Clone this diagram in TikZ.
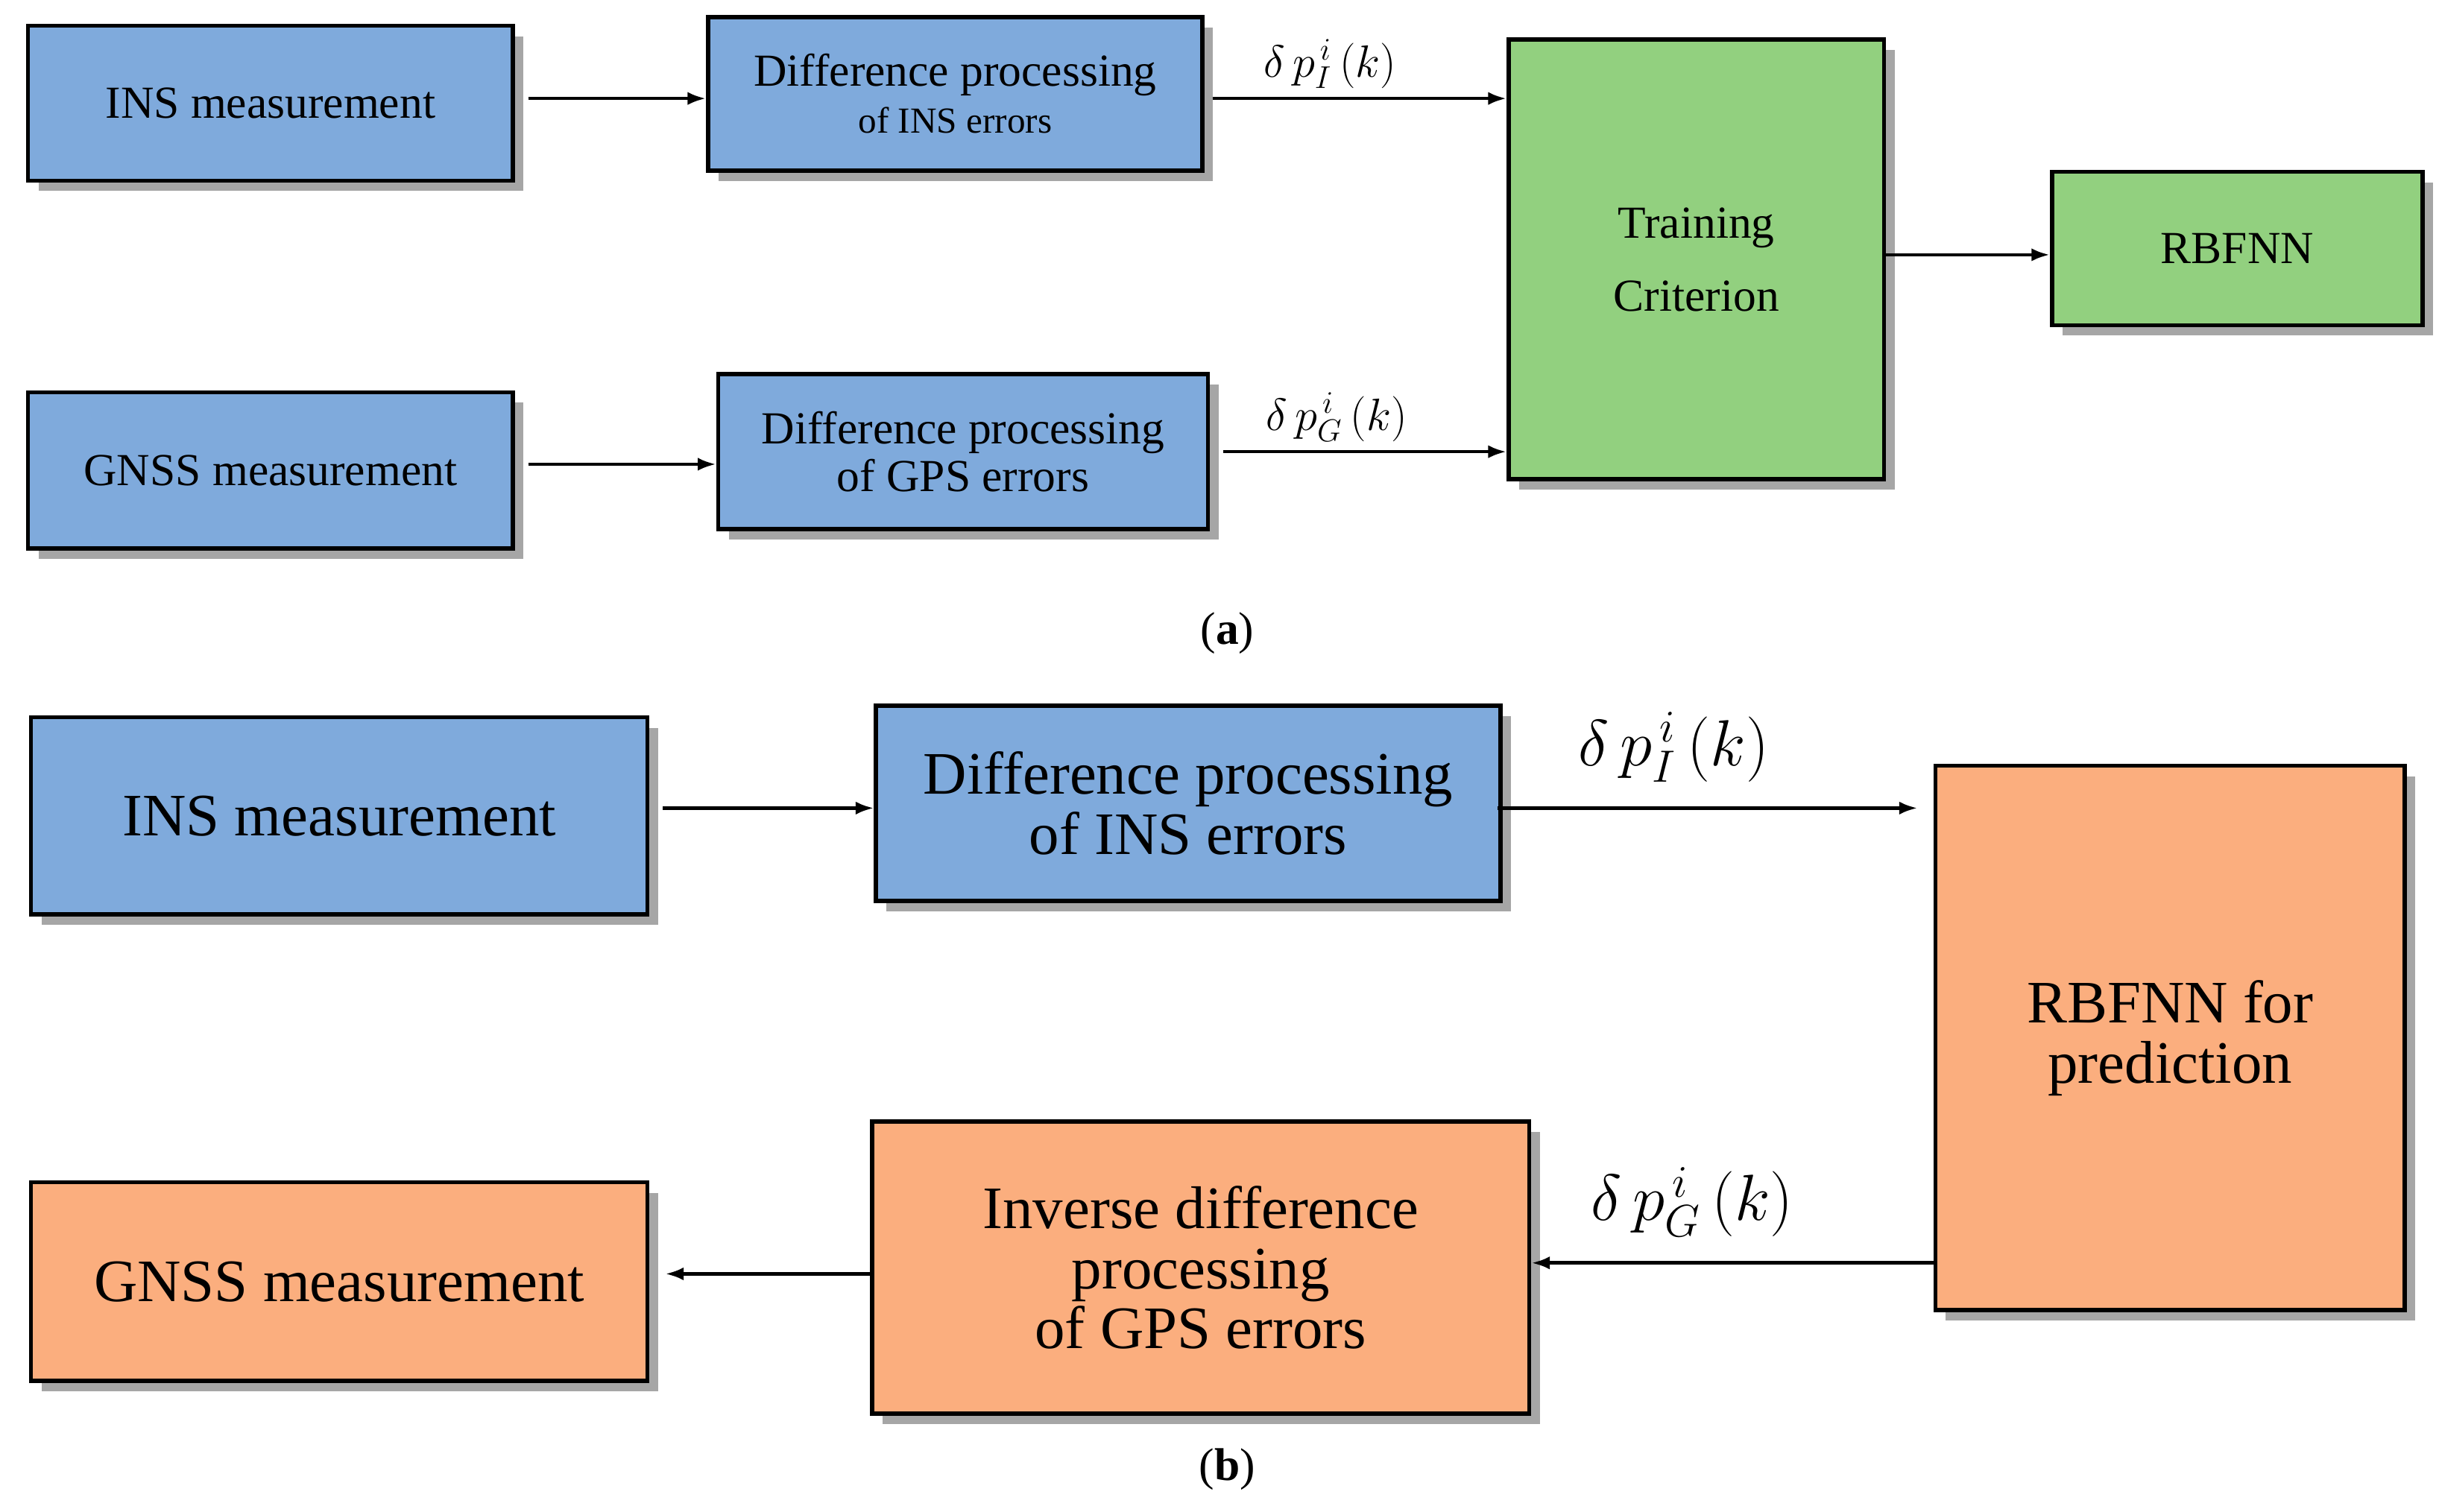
\documentclass[tikz,border=0pt]{standalone}
\usepackage{fontspec}
\setmainfont{Liberation Serif}
\usetikzlibrary{arrows.meta,shadows}
\definecolor{boxblue}{HTML}{7FAADC}
\definecolor{boxgreen}{HTML}{92D07F}
\definecolor{boxorange}{HTML}{FBAE7E}
\tikzset{
  box/.style={draw=black, line width=1.6pt, align=center, inner sep=0pt,
    drop shadow={shadow xshift=4pt, shadow yshift=-4pt, fill=gray!70, opacity=1}},
  small/.style={font=\fontsize{17.5}{20}\selectfont},
  big/.style={font=\fontsize{23}{26}\selectfont},
  arr/.style={-{Latex[length=7pt,width=5pt]}, line width=1.3pt}
}
\begin{document}
\begin{tikzpicture}[x=0.02097cm, y=-0.02097cm]
  \useasboundingbox (0,0) rectangle (1560,967);

  % (a) training
  \node[box, small, fill=boxblue, minimum width=310*0.597pt, minimum height=99*0.597pt] (insa) at (173,66) {INS measurement};
  \node[box, small, fill=boxblue, minimum width=316*0.597pt, minimum height=98*0.597pt] (dinsa) at (611,60)
    {Difference processing\\[-2pt]{\fontsize{14}{16}\selectfont of INS errors}};
  \node[box, small, fill=boxblue, minimum width=310*0.597pt, minimum height=100*0.597pt] (gnssa) at (173,301) {GNSS measurement};
  \node[box, small, fill=boxblue, minimum width=313*0.597pt, minimum height=99*0.597pt] (dgpsa) at (616,289)
    {Difference processing\\[-2pt]of GPS errors};
  \node[box, small, fill=boxgreen, minimum width=240*0.597pt, minimum height=281*0.597pt] (train) at (1085,166)
    {Training\\[8pt]Criterion};
  \node[box, small, fill=boxgreen, minimum width=237*0.597pt, minimum height=98*0.597pt] (rbf) at (1431,159) {RBFNN};
  \node[small] (capa) at (785,405) {(\textbf{a})};

  \draw[arr] ([xshift=5pt]insa.east |- 0,63) -- (dinsa.west |- 0,63);
  \draw[arr] ([xshift=3pt]dinsa.east |- 0,63) -- node[above, small, pos=0.4] {$\delta\, p_{I}^{\,i}\,(k)$} (train.west |- 0,63);
  \draw[arr] ([xshift=5pt]gnssa.east |- 0,297) -- (dgpsa.west |- 0,297);
  \draw[arr] ([xshift=5pt]dgpsa.east |- 0,289) -- node[above, small, pos=0.4] {$\delta\, p_{G}^{\,i}\,(k)$} (train.west |- 0,289);
  \draw[arr] (train.east |- 0,163) -- (rbf.west |- 0,163);

  % (b) prediction
  \node[box, big, fill=boxblue, minimum width=394*0.597pt, minimum height=126*0.597pt] (insb) at (217,522) {INS measurement};
  \node[box, big, fill=boxblue, minimum width=399*0.597pt, minimum height=125*0.597pt] (dinsb) at (760,514)
    {Difference processing\\[-3pt]of INS errors};
  \node[box, big, fill=boxorange, minimum width=300*0.597pt, minimum height=348*0.597pt] (pred) at (1388,664)
    {RBFNN for\\[-3pt]prediction};
  \node[box, big, fill=boxorange, minimum width=420*0.597pt, minimum height=187*0.597pt] (inv) at (768,811)
    {Inverse difference\\[-3pt]processing\\[-3pt]of GPS errors};
  \node[box, big, fill=boxorange, minimum width=394*0.597pt, minimum height=127*0.597pt] (gnssb) at (217,820) {GNSS measurement};
  \node[small] (capb) at (785,940) {(\textbf{b})};

  \draw[arr] ([xshift=5pt]insb.east |- 0,517) -- (dinsb.west |- 0,517);
  \draw[arr] ([xshift=-2pt]dinsb.east |- 0,517) -- node[above, big, pos=0.42, yshift=6pt] {$\delta\, p_{I}^{\,i}\,(k)$} ([xshift=-6pt]pred.west |- 0,517);
  \draw[arr] (pred.west |- 0,808) -- node[above, big, pos=0.6, yshift=6pt] {$\delta\, p_{G}^{\,i}\,(k)$} (inv.east |- 0,808);
  \draw[arr] (inv.west |- 0,815) -- ([xshift=6pt]gnssb.east |- 0,815);
\end{tikzpicture}
\end{document}
